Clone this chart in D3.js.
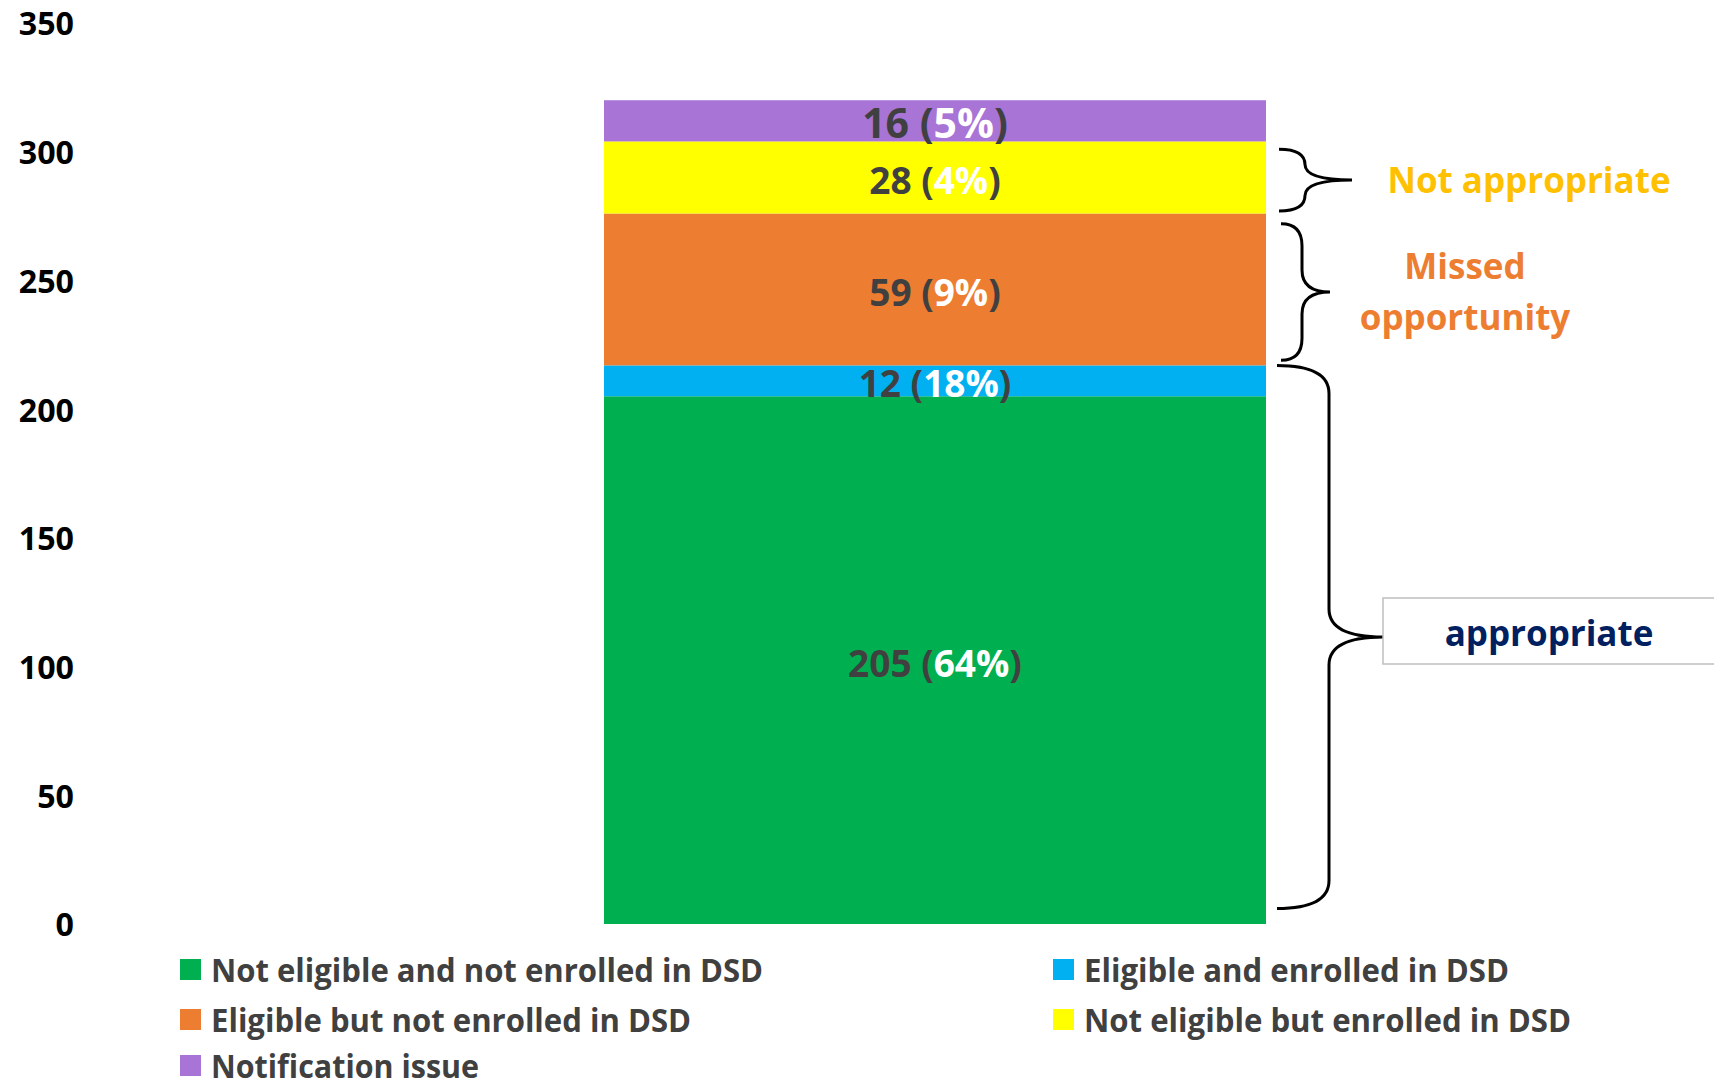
<!DOCTYPE html>
<html>
<head>
<meta charset="utf-8">
<script src="https://cdn.jsdelivr.net/npm/d3@7"></script>
<style>
  body { margin: 0; background: #fff; }
  svg text { font-family: "Open Sans", "Noto Sans", sans-serif; font-weight: 700; }
</style>
</head>
<body>
<div id="chart"></div>
<script>
// data
var categories = [""];
var seriesNames = ["Not eligible and not enrolled in DSD", "Eligible and enrolled in DSD",
    "Eligible but not enrolled in DSD", "Not eligible but enrolled in DSD", "Notification issue"];
var seriesValues = [205, 12, 59, 28, 16];
var seriesPercents = ["64%", "18%", "9%", "4%", "5%"];
var seriesColors = ["#00B050", "#00B0F0", "#ED7D31", "#FFFF00", "#A874D6"];
var yTicks = [0, 50, 100, 150, 200, 250, 300, 350];
// legend order (as shown, two columns)
var legendOrder = [0, 1, 2, 3, 4];
// bracket groups: [from, to] in axis units
var groupNames = ["Not appropriate", "Missed opportunity", "appropriate"];
var groupRanges = [[277, 301], [219, 272], [6, 217]];
var groupColors = ["#FFC000", "#ED7D31", "#002060"];

var width = 1714, height = 1088;
var svg = d3.select("#chart").append("svg")
    .attr("width", width)
    .attr("height", height);

var y = d3.scaleLinear().domain([0, 350]).range([924, 23]);
var x = d3.scaleBand().domain(categories).range([604, 1266]).padding(0);

// y axis
var yAxis = svg.append("g")
    .attr("transform", "translate(74,0)")
    .call(d3.axisLeft(y).tickValues(yTicks).tickSize(0).tickPadding(0));
yAxis.select(".domain").remove();
yAxis.selectAll("text")
    .attr("font-size", "33px")
    .attr("font-family", "'Open Sans', sans-serif")
    .attr("font-weight", 700)
    .attr("fill", "#000")
    .attr("textLength", function (d) { return String(d).length * 18.4; })
    .attr("lengthAdjust", "spacingAndGlyphs")
    .attr("dy", "0.36em");

// stacked segments
var stacked = [];
var acc = 0;
seriesValues.forEach(function (v, i) {
    stacked.push({ i: i, y0: acc, y1: acc + v, value: v });
    acc += v;
});

svg.selectAll("rect.seg")
    .data(stacked)
    .enter().append("rect")
    .attr("class", "seg")
    .attr("x", x(categories[0]))
    .attr("width", x.bandwidth())
    .attr("y", function (d) { return y(d.y1); })
    .attr("height", function (d) { return y(d.y0) - y(d.y1); })
    .attr("fill", function (d) { return seriesColors[d.i]; });

// data labels
var labels = svg.selectAll("text.lab")
    .data(stacked)
    .enter().append("text")
    .attr("class", "lab")
    .attr("x", x(categories[0]) + x.bandwidth() / 2)
    .attr("y", function (d) { return (y(d.y0) + y(d.y1)) / 2 + 1.5; })
    .attr("text-anchor", "middle")
    .attr("dominant-baseline", "central")
    .attr("font-size", function (d) { return d.i === 4 ? "41px" : "37px"; });
labels.append("tspan").attr("fill", "#404040").text(function (d) { return d.value + " ("; });
labels.append("tspan").attr("fill", "#fff").text(function (d) { return seriesPercents[d.i]; });
labels.append("tspan").attr("fill", "#404040").text(")");

// braces
function brace(x0, x1, xt, ya, yb, r) {
    var ym = (ya + yb) / 2;
    var r2 = Math.min(r, (yb - ya) / 4);
    return "M" + x0 + "," + ya +
        " Q" + x1 + "," + ya + " " + x1 + "," + (ya + r2) +
        " L" + x1 + "," + (ym - r2) +
        " Q" + x1 + "," + ym + " " + xt + "," + ym +
        " Q" + x1 + "," + ym + " " + x1 + "," + (ym + r2) +
        " L" + x1 + "," + (yb - r2) +
        " Q" + x1 + "," + yb + " " + x0 + "," + yb;
}
var braceGeom = [
    { x0: 1279, x1: 1305, xt: 1352, r: 16 },
    { x0: 1281, x1: 1302, xt: 1330, r: 22 },
    { x0: 1277, x1: 1329, xt: 1383, r: 28 }
];
groupRanges.forEach(function (g, i) {
    var b = braceGeom[i];
    svg.append("path")
        .attr("d", brace(b.x0, b.x1, b.xt, y(g[1]), y(g[0]), b.r))
        .attr("fill", "none")
        .attr("stroke", "#000")
        .attr("stroke-width", 3);
});

// group labels
svg.append("text")
    .attr("x", 1529)
    .attr("y", (y(groupRanges[0][0]) + y(groupRanges[0][1])) / 2 - 1)
    .attr("dominant-baseline", "central")
    .attr("text-anchor", "middle")
    .attr("font-size", "35px")
    .attr("fill", groupColors[0])
    .text(groupNames[0]);

var mo = svg.append("text")
    .attr("text-anchor", "middle")
    .attr("font-size", "35px")
    .attr("fill", groupColors[1]);
mo.append("tspan").attr("x", 1465).attr("y", 279).text("Missed");
mo.append("tspan").attr("x", 1465).attr("y", 330).text("opportunity");

svg.append("rect")
    .attr("x", 1383)
    .attr("y", 598)
    .attr("width", 340)
    .attr("height", 66)
    .attr("fill", "#fff")
    .attr("stroke", "#bfbfbf")
    .attr("stroke-width", 1.5);
svg.append("text")
    .attr("x", 1549)
    .attr("y", 632)
    .attr("dominant-baseline", "central")
    .attr("text-anchor", "middle")
    .attr("font-size", "35px")
    .attr("fill", groupColors[2])
    .text(groupNames[2]);

// legend
var legendCols = [180, 1053];
var legendRows = [969, 1019, 1065];
var legendWidths = [552, 425, 480, 487, 268];
var leg = svg.selectAll("g.leg")
    .data(legendOrder)
    .enter().append("g")
    .attr("class", "leg")
    .attr("transform", function (d, k) {
        return "translate(" + legendCols[k % 2] + "," + legendRows[Math.floor(k / 2)] + ")";
    });
leg.append("rect")
    .attr("x", 0)
    .attr("y", -10)
    .attr("width", 21)
    .attr("height", 21)
    .attr("fill", function (d) { return seriesColors[d]; });
leg.append("text")
    .attr("x", 31)
    .attr("y", 0)
    .attr("dominant-baseline", "central")
    .attr("font-size", "32px")
    .attr("font-weight", 700)
    .attr("fill", "#404040")
    .attr("textLength", function (d, k) { return legendWidths[k]; })
    .attr("lengthAdjust", "spacingAndGlyphs")
    .text(function (d) { return seriesNames[d]; });
</script>
</body>
</html>
